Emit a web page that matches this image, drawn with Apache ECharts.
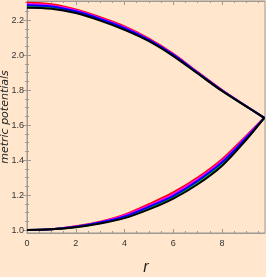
<!DOCTYPE html>
<html><head><meta charset="utf-8">
<script src="https://cdn.jsdelivr.net/npm/echarts@6/dist/echarts.min.js"></script>
<style>html,body{margin:0;padding:0;background:#FFE6CC;}#c{width:266px;height:277px;}</style>
</head><body><div id="c"></div>
<script>
var rValues = [0, 1, 2, 3, 4, 5, 6, 7, 8, 9, 9.73];
var topRed     = [2.300, 2.292, 2.262, 2.217, 2.165, 2.095, 2.008, 1.903, 1.800, 1.708, 1.642];
var topMagenta = [2.293, 2.285, 2.257, 2.212, 2.160, 2.091, 2.005, 1.901, 1.799, 1.708, 1.642];
var topBlue    = [2.286, 2.279, 2.251, 2.207, 2.155, 2.087, 2.002, 1.899, 1.798, 1.707, 1.642];
var topGreen   = [2.279, 2.272, 2.246, 2.203, 2.150, 2.084, 1.998, 1.897, 1.796, 1.707, 1.642];
var topBlack   = [2.272, 2.266, 2.241, 2.198, 2.145, 2.080, 1.995, 1.895, 1.795, 1.706, 1.642];
var botRed     = [1.000, 1.005, 1.021, 1.048, 1.088, 1.148, 1.215, 1.300, 1.405, 1.540, 1.642];
var botMagenta = [1.000, 1.005, 1.020, 1.045, 1.083, 1.140, 1.206, 1.291, 1.396, 1.535, 1.642];
var botBlue    = [1.000, 1.004, 1.019, 1.043, 1.078, 1.133, 1.196, 1.281, 1.387, 1.529, 1.642];
var botGreen   = [1.000, 1.004, 1.017, 1.040, 1.073, 1.125, 1.188, 1.272, 1.378, 1.524, 1.642];
var botBlack   = [1.000, 1.004, 1.016, 1.037, 1.068, 1.118, 1.180, 1.262, 1.368, 1.518, 1.642];
var xTickLabels = [0, 2, 4, 6, 8];
var yTickLabels = [1.0, 1.2, 1.4, 1.6, 1.8, 2.0, 2.2];
var xTitle = 'r';
var yTitle = 'metric potentials';

var X_MIN = 0, X_MAX = 9.76, Y_MIN = 0.983, Y_MAX = 2.31;
var xMinor = [], yMinor = [];
for (var i = 0; i <= 19; i++) xMinor.push(i * 0.5);
for (var j = 20; j <= 46; j++) yMinor.push(j * 0.05);

var frame = '#a09a94';
var labelFont = "'Liberation Sans Narrow','Liberation Sans',sans-serif";

function pairs(v){ return rValues.map(function(r,k){ return [r, v[k]]; }); }

function xAx(pos, major, labels){
  return {
    type:'value', position:pos, min:X_MIN, max:X_MAX,
    axisLine:{show:major, lineStyle:{color:frame, width:1}},
    splitLine:{show:false},
    axisTick:{show:true, inside:true, length: major?4:2, lineStyle:{color:frame},
      customValues: major ? xTickLabels : xMinor},
    axisLabel:{show:labels, customValues: xTickLabels, color:'#333', fontSize:9,
      fontFamily:labelFont, margin:6},
    name: labels ? xTitle : '',
    nameLocation:'middle', nameGap:27, nameMoveOverlap:false,
    nameTextStyle:{fontStyle:'italic', fontSize:16, color:'#222', fontFamily:labelFont}
  };
}
function yAx(pos, major, labels){
  return {
    type:'value', position:pos, min:Y_MIN, max:Y_MAX,
    axisLine:{show:major, lineStyle:{color:frame, width:1}},
    splitLine:{show:false},
    axisTick:{show:true, inside:true, length: major?4:2, lineStyle:{color:frame},
      customValues: major ? yTickLabels : yMinor},
    axisLabel:{show:labels, customValues: yTickLabels, color:'#333', fontSize:9,
      fontFamily:labelFont, margin:3, formatter:function(v){return v.toFixed(1);}},
    name: labels ? yTitle : '',
    nameLocation:'middle', nameGap:16.5, nameRotate:90, nameMoveOverlap:false,
    nameTextStyle:{fontStyle:'italic', fontSize:11, color:'#222', fontFamily:"'DejaVu Sans',sans-serif"}
  };
}

var chart = echarts.init(document.getElementById('c'), null, {renderer:'canvas'});
var colors = ['#ff0000','#ff00ff','#0000ff','#00cc00','#000000'];
var tops = [topRed, topMagenta, topBlue, topGreen, topBlack];
var bots = [botRed, botMagenta, botBlue, botGreen, botBlack];
var series = [];
[0,1,3,2,4].forEach(function(k){
  series.push({type:'line', data:pairs(tops[k]), smooth:0.35, symbol:'none',
    lineStyle:{color:colors[k], width:2}, xAxisIndex:0, yAxisIndex:0, animation:false});
  series.push({type:'line', data:pairs(bots[k]), smooth:0.35, symbol:'none',
    lineStyle:{color:colors[k], width:2}, xAxisIndex:0, yAxisIndex:0, animation:false});
});

chart.setOption({
  backgroundColor:'#FFE6CC',
  animation:false,
  grid:{left:27, right:1, top:1, bottom:44, show:true, borderColor:frame, borderWidth:1,
    backgroundColor:'#FFE6CC', containLabel:false, outerBoundsMode:'none'},
  xAxis:[xAx('bottom',true,true), xAx('bottom',false,false), xAx('top',true,false), xAx('top',false,false)],
  yAxis:[yAx('left',true,true), yAx('left',false,false), yAx('right',true,false), yAx('right',false,false)],
  series:series
});
</script></body></html>
